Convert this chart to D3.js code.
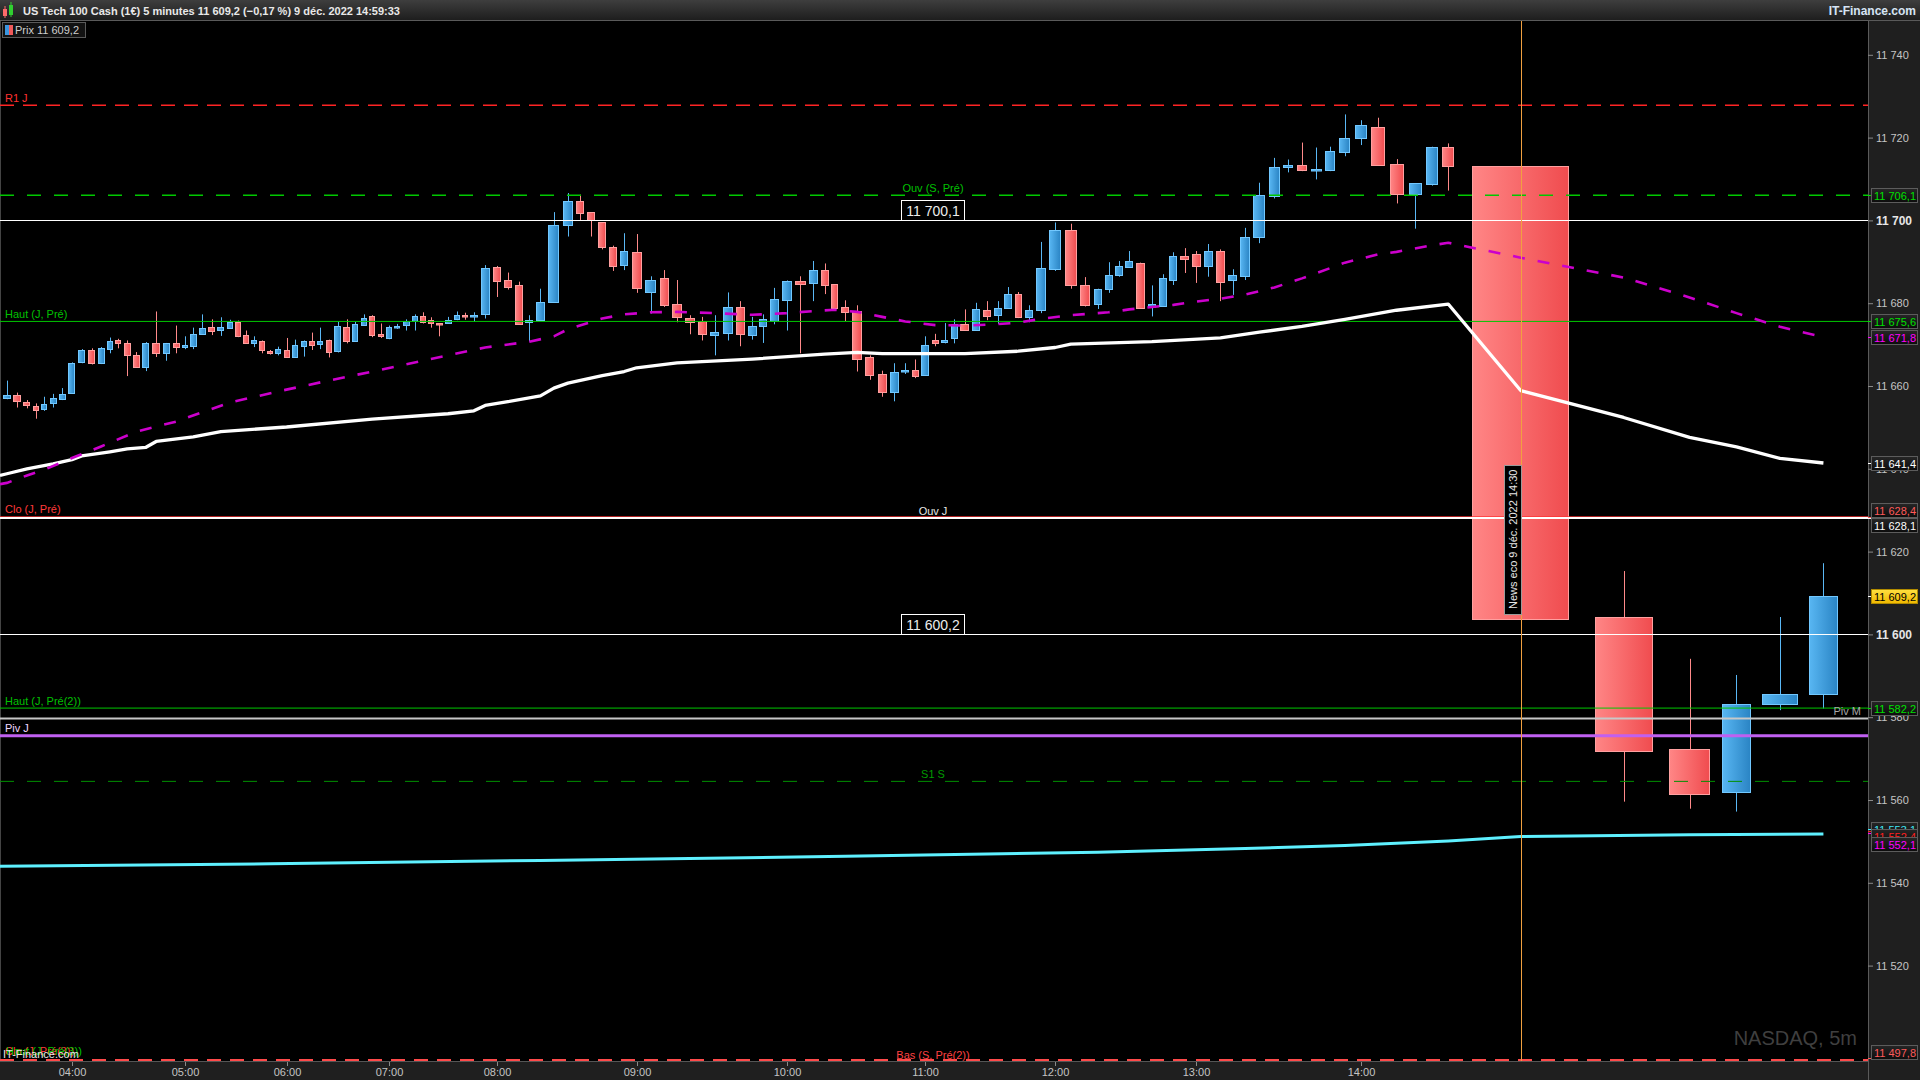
<!DOCTYPE html>
<html><head><meta charset="utf-8">
<script src="https://cdn.jsdelivr.net/npm/d3@7/dist/d3.min.js"></script>
<style>
html,body{margin:0;padding:0;background:#000;overflow:hidden}
svg{display:block}
text{font-family:"Liberation Sans",Arial,sans-serif}
</style>
</head><body>
<svg id="chart" width="1920" height="1080"></svg>
<script>
// ---------- DATA ----------
const instrument = "US Tech 100 Cash (1€)";
const period = "5 minutes";
const changePct = -0.17;
const dateText = "9 déc. 2022 14:59:33";
const firstCandle = [2022, 11, 9, 3, 25];
const hourTicks = ["04:00","05:00","06:00","07:00","08:00","09:00","10:00","11:00","12:00","13:00","14:00"];

const opens = [11657.1,11657.9,11656.1,11655.1,11654.5,11655.8,11656.8,11658.2,11665.7,11668.6,
11665.5,11668.9,11671.0,11670.4,11667.6,11664.5,11670.4,11667.9,11670.4,11669.3,
11669.6,11672.6,11674.3,11673.5,11674.0,11675.5,11672.4,11670.3,11670.8,11668.4,
11667.9,11668.7,11666.9,11669.6,11670.9,11670.1,11671.0,11668.4,11674.3,11670.8,
11674.7,11676.8,11672.6,11671.7,11674.2,11674.8,11675.7,11677.0,11676.0,11675.2,
11675.1,11676.2,11677.2,11677.0,11677.5,11688.8,11685.5,11684.3,11675.4,11675.9,
11680.4,11698.8,11704.8,11702.0,11699.6,11693.5,11689.3,11692.3,11682.7,11686.0,
11679.9,11676.5,11675.6,11672.4,11672.8,11679.2,11672.3,11674.5,11675.7,11680.8,
11685.3,11684.9,11688.0,11684.6,11679.0,11678.0,11667.1,11663.0,11658.5,11663.6,
11663.9,11662.6,11671.2,11670.7,11671.6,11675.0,11673.6,11678.4,11677.2,11678.9,
11682.3,11676.7,11678.4,11688.3,11697.7,11684.3,11679.7,11683.5,11686.7,11688.8,
11689.8,11679.1,11679.4,11685.7,11691.5,11692.0,11689.0,11692.5,11685.5,11686.6,
11695.9,11706.0,11712.8,11713.4,11712.1,11712.1,11716.5,11720.0,11722.6,11713.6,
11706.3,11708.7,11717.8,11713.1,11604.1,11572.2,11561.9,11583.3,11585.7];
const highs = [11661.3,11658.4,11656.6,11655.8,11657.4,11658.1,11659.5,11665.7,11668.9,11669.1,
11669.4,11671.7,11671.4,11671.0,11668.2,11670.6,11678.0,11670.4,11674.6,11672.0,
11674.1,11677.3,11676.1,11676.6,11676.0,11675.8,11673.4,11672.0,11671.0,11668.7,
11669.5,11671.6,11671.2,11671.0,11672.9,11674.1,11671.2,11675.6,11676.1,11675.5,
11677.3,11677.1,11675.1,11674.6,11675.0,11676.1,11677.3,11677.8,11676.6,11675.2,
11676.7,11678.0,11677.7,11677.8,11689.2,11689.0,11687.4,11685.2,11677.1,11683.5,
11702.0,11706.6,11706.2,11702.0,11699.6,11693.9,11696.9,11696.7,11686.5,11688.0,
11685.6,11677.1,11676.7,11677.1,11682.6,11680.5,11676.7,11677.3,11683.7,11685.5,
11686.5,11690.2,11689.6,11684.6,11680.7,11679.5,11667.4,11663.7,11665.5,11665.5,
11666.4,11672.0,11672.6,11675.2,11676.1,11678.5,11680.1,11680.5,11680.5,11683.9,
11682.7,11679.5,11694.8,11699.5,11699.2,11686.3,11683.5,11689.9,11690.2,11692.6,
11689.8,11684.3,11687.0,11692.3,11693.3,11692.6,11694.3,11693.0,11688.2,11698.2,
11709.1,11715.1,11714.7,11718.8,11717.6,11717.8,11725.6,11724.2,11724.8,11714.8,
11709.0,11717.8,11718.6,11713.2,11615.3,11594.1,11590.2,11604.2,11617.2];
const lows = [11656.8,11654.8,11654.6,11652.1,11654.0,11654.8,11656.6,11658.1,11665.5,11665.2,
11665.3,11667.9,11669.1,11662.4,11664.5,11663.6,11667.0,11666.1,11667.9,11668.9,
11668.9,11672.5,11672.3,11672.1,11673.8,11671.8,11670.2,11669.4,11667.9,11667.6,
11667.4,11666.9,11666.9,11667.1,11668.7,11668.9,11666.9,11668.1,11670.3,11670.8,
11674.6,11671.8,11671.6,11671.3,11673.8,11673.4,11673.4,11675.1,11674.1,11672.0,
11675.1,11675.9,11676.0,11675.5,11676.3,11681.5,11683.3,11674.9,11670.8,11675.9,
11680.1,11696.1,11700.1,11696.1,11693.0,11687.8,11688.0,11682.5,11677.5,11679.1,
11675.4,11672.5,11671.0,11667.4,11671.0,11669.6,11671.2,11670.4,11674.9,11673.4,
11667.9,11680.5,11682.2,11678.3,11675.7,11663.5,11661.5,11657.4,11656.3,11662.9,
11661.9,11662.5,11669.6,11670.3,11670.3,11673.4,11673.3,11675.9,11675.0,11678.9,
11676.4,11675.4,11677.6,11687.8,11683.5,11679.2,11678.6,11682.5,11686.4,11688.5,
11678.8,11676.8,11679.4,11684.4,11687.3,11684.9,11686.4,11680.5,11682.0,11685.6,
11694.5,11705.3,11711.6,11711.9,11709.9,11711.9,11715.5,11718.2,11713.4,11704.1,
11698.0,11708.4,11707.2,11603.6,11559.6,11557.9,11557.2,11581.7,11582.1];
const closes = [11657.9,11656.3,11655.3,11654.3,11655.6,11657.1,11658.1,11665.6,11668.7,11665.5,
11669.1,11670.9,11670.3,11667.4,11664.5,11670.4,11667.9,11670.4,11669.4,11669.9,
11672.6,11674.1,11673.4,11674.2,11675.5,11672.0,11670.3,11671.0,11668.7,11667.9,
11669.0,11666.9,11669.9,11670.8,11669.8,11670.9,11668.2,11674.6,11670.8,11675.0,
11676.5,11672.3,11672.0,11674.3,11674.6,11675.6,11677.0,11675.5,11675.2,11675.0,
11676.0,11677.2,11676.9,11677.2,11688.6,11685.4,11683.9,11675.0,11676.0,11680.4,
11698.8,11704.7,11701.9,11700.0,11693.6,11689.0,11692.5,11683.7,11685.5,11679.6,
11676.7,11675.4,11672.6,11673.1,11679.0,11672.6,11674.6,11676.1,11681.0,11685.3,
11684.7,11688.0,11684.4,11678.9,11677.9,11666.5,11662.7,11658.5,11663.5,11663.9,
11662.3,11670.0,11670.5,11671.0,11675.0,11673.6,11678.7,11677.0,11678.9,11682.3,
11676.7,11678.4,11688.4,11697.7,11684.4,11679.6,11683.5,11686.7,11689.1,11690.1,
11678.8,11679.7,11686.2,11691.3,11690.7,11689.0,11692.5,11685.2,11686.9,11695.9,
11706.2,11712.9,11713.4,11712.2,11712.3,11716.8,11720.0,11723.1,11713.4,11706.3,
11709.0,11717.8,11713.1,11603.6,11571.8,11561.5,11583.1,11585.5,11609.2];
const volumes = [102,102,96,84,84,92,94,96,100,98,
92,84,84,94,92,98,106,100,92,82,
88,94,92,92,86,82,80,82,80,78,
82,84,86,86,84,80,86,92,88,84,
86,86,82,84,86,88,84,78,80,88,
92,82,80,102,124,112,106,110,102,122,
147,134,112,108,112,110,108,140,144,125,
132,128,122,125,130,125,114,106,114,134,
141,121,102,100,112,129,125,120,118,104,
98,102,100,91,98,114,112,106,102,106,
100,109,134,154,159,134,112,104,102,107,
117,112,105,110,114,120,120,122,122,130,
154,147,132,140,145,140,149,165,182,192,
177,164,160,1290,770,550,390,480,390];

// moving averages: [candle number (0 = left edge), value]
const maWhite = [[0,11638.4],[1,11638.8],[3,11640.0],[6,11641.2],[8,11642.2],[9,11643.1],[12,11644.1],[14,11644.8],[16,11645.2],
[17,11646.6],[21,11647.7],[24,11649.0],[32,11650.1],[42,11652.0],[51,11653.3],[54,11654.0],[55,11655.3],[57,11656.2],
[60,11657.6],[61,11659.5],[62,11660.7],[65,11662.5],[67,11663.5],[68,11664.4],[71,11665.6],[77,11666.5],[83,11667.7],
[86,11668.1],[88,11667.8],[96,11667.8],[101,11668.4],[104,11669.3],[105,11670.1],[112,11670.7],[118,11671.6],
[121,11673.0],[124,11674.4],[127,11676.1],[130,11678.3],[133,11679.8],[134,11658.9],[135,11652.4],[136,11647.6],
[137,11645.3],[138,11642.5],[139,11641.4]];
const maMagenta = [[0,11636.3],[1,11636.6],[3,11638.4],[5,11639.8],[8,11642.6],[11,11645.4],[15,11649.0],[19,11651.4],[25,11656.0],
[31,11658.7],[37,11661.3],[43,11663.9],[49,11666.5],[55,11669.3],[59,11670.7],[61,11672.0],[62,11673.7],[65,11676.3],
[67,11677.3],[69,11677.8],[71,11677.9],[74,11677.6],[77,11677.2],[80,11677.6],[82,11678.1],[84,11678.4],[86,11677.9],
[88,11676.7],[90,11675.6],[93,11674.7],[96,11674.6],[98,11674.8],[101,11675.3],[103,11676.2],[105,11677.1],
[108,11677.8],[110,11678.5],[114,11679.6],[116,11680.4],[118,11681.1],[120,11682.1],[122,11683.8],[124,11686.0],
[126,11688.5],[127,11689.8],[129,11691.8],[130,11692.4],[132,11694.0],[133,11694.6],[134,11691.0],[135,11686.2],
[136,11681.4],[137,11677.6],[138,11674.3],[139,11671.8]];
const maCyan = [[0,11544.0],[30,11544.6],[60,11545.4],[85,11546.4],[107,11547.4],[120,11548.3],[127,11549.0],
[133,11550.1],[134,11551.2],[136,11551.6],[139,11551.8]];

// horizontal levels
const levelNames  = ["R1 J","Ouv (S, Pré)","Haut (J, Pré)","Clo (J, Pré)","Ouv J","Haut (J, Pré(2))","Piv M","Piv J","S1 S","Bas (S, Pré(2))"];
const levelValues = [11727.8,11706.1,11675.6,11628.4,11628.1,11582.2,11579.7,11575.5,11564.5,11497.8];
const markerValues = [11700.1, 11600.2];
const offChartNames = ["Clo (J, Pré(3))","Haut (J, Pré(3))"];
const newsText = "News eco 9 déc. 2022 14:30";
const newsCandle = 134;
const yTicks = [11740,11720,11700,11680,11660,11640,11620,11600,11580,11560,11540,11520];
const axisValues = [11706.1,11675.6,11671.8,11641.4,11628.4,11628.1,11609.2,11582.2,11553.1,11552.4,11552.1,11497.8];

// ---------- LAYOUT / STYLE ----------
const W = 1920, H = 1080;
const plot = {l:0, r:1868, t:21, b:1061};
const svg = d3.select("#chart");
const loc = d3.formatLocale({decimal:",", thousands:" ", grouping:[3], currency:["","€"]});
const f0 = loc.format(","), f1 = loc.format(",.1f"), f2 = loc.format(",.2f");

const y = d3.scaleLinear().domain([11600, 11700]).range([634.4, 220.4]);
const cum = d3.cumsum(volumes);
const x = d3.scaleLinear().domain([0, cum[cum.length-1]]).range([1.8, 1842.9]);
const cx = i => x(cum[i] - volumes[i]/2);
const bw = i => (x(volumes[i]) - x(0)) * 0.75;
const t0 = new Date(...firstCandle);
const fmtT = d3.timeFormat("%H:%M");
const times = opens.map((_, i) => fmtT(d3.timeMinute.offset(t0, 5*i)));
const lineY = v => { const p = y(v); return p > plot.b - 6 ? plot.b - 1 : p; };

const defs = svg.append("defs");
function grad(id, stops, vertical){
  const g = defs.append("linearGradient").attr("id", id).attr("x1",0).attr("y1",0)
    .attr("x2", vertical?0:1).attr("y2", vertical?1:0);
  stops.forEach((c,k)=>g.append("stop").attr("offset", k/(stops.length-1)).attr("stop-color", c));
}
grad("gRed", ["#ff8686","#f04c4f"]);
grad("gBlue", ["#58b6f2","#2a84c4"]);
grad("gHead", ["#3e3e3e","#1c1c1c"], true);
grad("gBox", ["#262626","#0c0c0c"], true);
grad("gYel", ["#ffe040","#f0b800"], true);
defs.append("clipPath").attr("id","clip").append("rect")
  .attr("x",plot.l).attr("y",plot.t).attr("width",plot.r-plot.l).attr("height",plot.b-plot.t);

// backgrounds
svg.append("rect").attr("width",W).attr("height",H).attr("fill","#000");
svg.append("rect").attr("x",plot.r).attr("y",plot.t).attr("width",W-plot.r).attr("height",H-plot.t).attr("fill","#1f1f1f");
svg.append("rect").attr("x",0).attr("y",plot.b).attr("width",plot.r).attr("height",H-plot.b).attr("fill","#1f1f1f");
svg.append("line").attr("x1",0).attr("x2",plot.r).attr("y1",plot.b+0.5).attr("y2",plot.b+0.5).attr("stroke","#555");
svg.append("line").attr("x1",plot.r+0.5).attr("x2",plot.r+0.5).attr("y1",plot.t).attr("y2",H).attr("stroke","#5a5a5a");
svg.append("line").attr("x1",0.5).attr("x2",0.5).attr("y1",plot.t).attr("y2",plot.b).attr("stroke","#444");

const P = svg.append("g").attr("clip-path","url(#clip)");

// watermark
P.append("text").attr("x",1857).attr("y",1045).attr("text-anchor","end").attr("font-size",20)
  .attr("fill","#3f3f3f").text("NASDAQ, 5m");

// candles
const cg = P.append("g");
opens.forEach((o,i)=>{
  const c = closes[i], up = c >= o;
  const xc = Math.round(cx(i)) + 0.5, w = Math.max(2, Math.round(bw(i)));
  cg.append("line").attr("x1",xc).attr("x2",xc).attr("y1",y(highs[i])).attr("y2",y(lows[i]))
    .attr("stroke", up ? "#5ab8f5" : "#ff8a8a").attr("stroke-width",1);
  const top = Math.round(y(Math.max(o,c))), bot = Math.round(y(Math.min(o,c)));
  cg.append("rect").attr("x", Math.round(cx(i) - w/2) + 0.5).attr("y", top + 0.5)
    .attr("width", w - 1).attr("height", Math.max(1.5, bot - top))
    .attr("fill", up ? "url(#gBlue)" : "url(#gRed)")
    .attr("stroke", up ? "#72c8ff" : "#ffa0a0").attr("stroke-width",1);
});

// level lines
const lvStyle = {
  "R1 J":{c:"#ff2424", w:1.5, d:"14,9", lab:"left", tc:"#ff3030"},
  "Ouv (S, Pré)":{c:"#00c800", w:1.5, d:"14,13", lab:"mid", tc:"#00c000"},
  "Haut (J, Pré)":{c:"#00c800", w:1, d:null, lab:"left", tc:"#00c000"},
  "Clo (J, Pré)":{c:"#ff3030", w:1, d:null, lab:"left", tc:"#ff3a3a"},
  "Ouv J":{c:"#ffffff", w:2, d:null, lab:"mid", tc:"#e8e8e8"},
  "Haut (J, Pré(2))":{c:"#00c800", w:1, d:null, lab:"left", tc:"#00c000"},
  "Piv M":{c:"#c8c8c8", w:2, d:null, lab:"right", tc:"#a8a8a8"},
  "Piv J":{c:"#c060f0", w:3, d:null, lab:"left", tc:"#f0d8ff"},
  "S1 S":{c:"#009000", w:1, d:"14,13", lab:"mid", tc:"#009a00"},
  "Bas (S, Pré(2))":{c:"#ff4a4a", w:2, d:"14,9", lab:"mid", tc:"#ff4040"}
};
const LG = P.append("g");
markerValues.forEach(v=>{
  LG.append("line").attr("x1",0).attr("x2",plot.r).attr("y1",Math.round(y(v))+0.5).attr("y2",Math.round(y(v))+0.5)
    .attr("stroke","#fff").attr("stroke-width",1.2);
});
levelNames.forEach((n,k)=>{
  const s = lvStyle[n], yy = lineY(levelValues[k]);
  const ln = LG.append("line").attr("x1",0).attr("x2",plot.r).attr("y1",yy).attr("y2",yy)
    .attr("stroke",s.c).attr("stroke-width",s.w);
  if (s.d) ln.attr("stroke-dasharray", s.d);
});

// moving averages
const line = d3.line().x(d=>d[0] === 0 ? plot.l : cx(d[0]-1)).y(d=>y(d[1]));
P.append("path").datum(maCyan).attr("d",line).attr("fill","none").attr("stroke","#5ef0ff").attr("stroke-width",3);
P.append("path").datum(maWhite).attr("d",line).attr("fill","none").attr("stroke","#ffffff").attr("stroke-width",3.3)
  .attr("stroke-linejoin","round");
P.append("path").datum(maMagenta).attr("d",line).attr("fill","none").attr("stroke","#cc00cc").attr("stroke-width",2.6)
  .attr("stroke-dasharray","12,13");

// level labels
const midX = 933;
levelNames.forEach((n,k)=>{
  const s = lvStyle[n], yy = lineY(levelValues[k]);
  const pinned = yy !== y(levelValues[k]);
  const t = P.append("text").attr("font-size",11).attr("fill",s.tc).attr("y", pinned ? yy - 1.5 : yy - 3.5).text(n);
  if (s.lab === "left") t.attr("x",5);
  else if (s.lab === "mid") t.attr("x",midX).attr("text-anchor","middle");
  else t.attr("x",1861).attr("text-anchor","end");
});
markerValues.forEach(v=>{
  const yy = Math.round(y(v)) + 0.5;
  P.append("rect").attr("x",901.5).attr("y",yy-20).attr("width",63).attr("height",20)
    .attr("fill","#000").attr("stroke","#fff").attr("stroke-width",1);
  P.append("text").attr("x",midX).attr("y",yy-5).attr("text-anchor","middle").attr("font-size",14)
    .attr("fill","#ececec").text(f1(v));
});
// off-chart labels pinned to the bottom
P.append("text").attr("x",5).attr("y",1055).attr("font-size",11).attr("fill","#ff3a3a").text(offChartNames[0]);
P.append("text").attr("x",6).attr("y",1055).attr("font-size",11).attr("fill","#00c000").text(offChartNames[1]);
P.append("text").attr("x",3).attr("y",1058).attr("font-size",11).attr("fill","#e8e8e8").text("IT-Finance.com");

// news marker
const nx = Math.round(cx(newsCandle-1)) + 0.5;
P.append("line").attr("x1",nx).attr("x2",nx).attr("y1",plot.t).attr("y2",plot.b).attr("stroke","#f0a040").attr("stroke-width",1);
P.append("rect").attr("x",nx-17).attr("y",465.5).attr("width",17).attr("height",149)
  .attr("fill","#000").attr("stroke","#9a9a9a").attr("stroke-width",1);
P.append("text").attr("transform",`translate(${nx-4.5},${609}) rotate(-90)`).attr("font-size",11)
  .attr("fill","#e6e6e6").text(newsText);

// ---------- Y AXIS ----------
const yAxis = d3.axisRight(y).tickValues(yTicks).tickSize(5).tickPadding(3).tickFormat(d=>f0(d));
const ya = svg.append("g").attr("transform",`translate(${plot.r},0)`).call(yAxis);
ya.select(".domain").remove();
ya.selectAll(".tick line").attr("stroke","#8a8a8a");
ya.selectAll(".tick text").attr("fill","#c4c4c4").attr("font-size",11)
  .attr("font-family",'"Liberation Sans",Arial,sans-serif')
  .filter(d=>d%100===0).attr("font-weight","bold").attr("fill","#e6e6e6").attr("font-size",12);

// value boxes on the axis
const boxStyle = [
  {c:"#00e000"},{c:"#00e000"},{c:"#ff00ff"},{c:"#ffffff"},{c:"#ff5a5a"},{c:"#ffffff"},
  {c:"#000000", bg:"url(#gYel)", st:"#b08a00"},{c:"#00e000"},
  {c:"#40e8f8", mode:"stack"},{c:"#ff2020", mode:"stack"},{c:"#ff00ff", mode:"stack"},{c:"#ff5a5a"}
];
const bh = 14;
const boxes = axisValues.map((v,k)=>({v, k, yy: Math.min(plot.b - bh/2 - 2, y(v)), s: boxStyle[k]}));
for (let k=1;k<boxes.length;k++){
  const a = boxes[k-1], b = boxes[k];
  if (b.s.mode === "stack" && a.s.mode === "stack") { if (b.yy - a.yy < 7.5) b.yy = a.yy + 7.5; }
  else if (b.yy - a.yy < bh + 0.5) { const m = (a.yy + b.yy)/2; a.yy = m - 7.25; b.yy = m + 7.25; }
}
boxes.forEach(b=>{
  const ty = Math.round(Math.min(plot.b - 1, y(b.v))) + 0.5;
  svg.append("line").attr("x1",plot.r).attr("x2",plot.r+4).attr("y1",ty).attr("y2",ty)
    .attr("stroke", b.s.c==="#000000"?"#fff":b.s.c);
});
boxes.forEach(b=>{
  const top = Math.round(b.yy - bh/2) + 0.5;
  svg.append("rect").attr("x",plot.r+3.5).attr("y",top).attr("width",46).attr("height",bh)
    .attr("fill", b.s.bg || "url(#gBox)").attr("stroke", b.s.st || "#5c5c5c").attr("stroke-width",1);
  svg.append("text").attr("x",plot.r+6).attr("y",top+11).attr("font-size",11).attr("fill",b.s.c).text(f1(b.v));
});

// ---------- X AXIS ----------
const xg = svg.append("g");
times.forEach((t,i)=>{
  if (!hourTicks.includes(t)) return;
  const xx = Math.round(cx(i)) + 0.5;
  xg.append("line").attr("x1",xx).attr("x2",xx).attr("y1",plot.b+1).attr("y2",plot.b+5).attr("stroke","#8a8a8a");
  xg.append("text").attr("x",xx).attr("y",1076).attr("text-anchor","middle").attr("font-size",11)
    .attr("fill","#c4c4c4").text(t);
});

// ---------- HEADER ----------
svg.append("rect").attr("width",W).attr("height",plot.t).attr("fill","url(#gHead)");
svg.append("line").attr("x1",0).attr("x2",W).attr("y1",plot.t-0.5).attr("y2",plot.t-0.5).attr("stroke","#5a5a5a");
svg.append("rect").attr("x",3).attr("y",9).attr("width",4).attr("height",7).attr("fill","#ff6b6b");
svg.append("line").attr("x1",5).attr("x2",5).attr("y1",6).attr("y2",18).attr("stroke","#ff6b6b");
svg.append("rect").attr("x",9).attr("y",5).attr("width",4).attr("height",10).attr("fill","#30d030");
svg.append("line").attr("x1",11).attr("x2",11).attr("y1",2).attr("y2",17).attr("stroke","#30d030");
const last = closes[closes.length-1];
svg.append("text").attr("x",23).attr("y",15).attr("font-size",11.5).attr("font-weight","bold")
  .attr("fill","#e8e8e8").attr("textLength",377).attr("lengthAdjust","spacingAndGlyphs")
  .text(`${instrument} ${period} ${f1(last)} (${f2(changePct)} %) ${dateText}`);
svg.append("text").attr("x",1916).attr("y",15).attr("text-anchor","end").attr("font-size",12).attr("font-weight","bold")
  .attr("fill","#d6e4f4").text("IT-Finance.com");

// legend box
svg.append("rect").attr("x",2.5).attr("y",22.5).attr("width",83).attr("height",15).attr("fill","#121212")
  .attr("stroke","#5a5a5a");
svg.append("rect").attr("x",5).attr("y",25).attr("width",4).attr("height",10).attr("fill","#3a96e0");
svg.append("rect").attr("x",9).attr("y",25).attr("width",4).attr("height",10).attr("fill","#f05a5a");
svg.append("text").attr("x",15).attr("y",34).attr("font-size",11).attr("fill","#cfcfcf").text(`Prix ${f1(last)}`);
</script>
</body></html>
